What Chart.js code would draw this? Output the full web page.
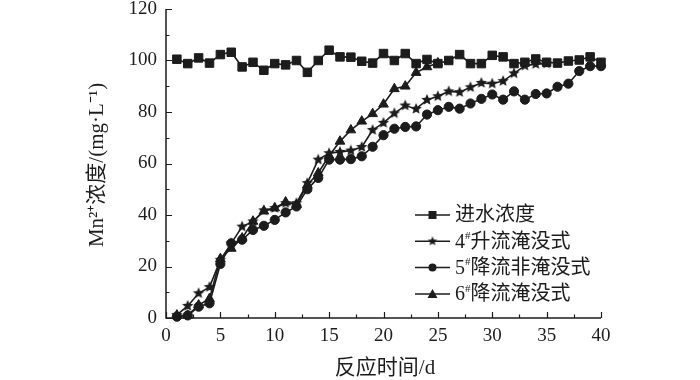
<!DOCTYPE html>
<html><head><meta charset="utf-8">
<script src="https://cdn.jsdelivr.net/npm/chart.js@4.4.0/dist/chart.umd.min.js"></script>
<style>html,body{margin:0;padding:0;background:#fff}#wrap{width:700px;height:380px}</style>
</head><body><div id="wrap"><canvas id="c" width="700" height="380"></canvas></div>
<script>
// ---- data ----
const days = [1,2,3,4,5,6,7,8,9,10,11,12,13,14,15,16,17,18,19,20,21,22,23,24,25,26,27,28,29,30,31,32,33,34,35,36,37,38,39,40];
const seriesLabels = ["进水浓度","4#升流淹没式","5#降流非淹没式","6#降流淹没式"];
const influent = [100.5,98.8,101,99,102.3,103.2,97.5,99.3,96.2,98.8,98.3,100,95.4,100,104,101.4,101.3,99.7,99,102.7,100,102.7,98.8,100.4,98.8,100,102.3,98.8,98.8,102,101.4,98.8,99.3,100.6,99.3,99,99.8,100.2,101.4,99.3];
const up4 = [1.2,4.7,9.6,12,22.6,29,35.5,37.5,41.8,42.7,44.6,44.6,52.4,61.5,64,64.5,65,66.4,73,75.8,79.5,82.5,81.2,84.7,86.1,88,87.7,89.6,91.3,91,92,95,98,98.6,98.8];
const down5 = [0.5,1,4.4,5.7,21,29,30.4,34.2,35.8,38.1,41,43.3,50,54.4,61.5,61.5,61.7,62.8,66.5,71,73.5,74.2,74.4,79,80.7,82,81.3,83.3,85.1,86.8,84.8,88,84.8,87,87.2,89.8,91,95.9,97.8,97.8];
const down6 = [1,1,5,7.5,23,27,31,37.5,41.5,42.7,45,44,51.7,56.3,63,68.6,73,76.4,79.3,83,89,90,95.3,97.5,99];
const xTicks = {min:0, max:40, step:5};
const yTicks = {min:0, max:120, step:20};

const INK = '#1c1c1c';
const FONT = '"Liberation Serif", "Noto Sans CJK SC", serif';

function starCanvas(r) {
  const c = document.createElement('canvas');
  const s = Math.ceil(r*2+2);
  c.width = s; c.height = s;
  const g = c.getContext('2d');
  g.fillStyle = INK;
  g.beginPath();
  for (let i=0;i<10;i++){
    const rr = i%2===0 ? r : r*0.45;
    const a = -Math.PI/2 + i*Math.PI/5;
    const px = s/2 + rr*Math.cos(a), py = s/2 + rr*Math.sin(a);
    if (i===0) g.moveTo(px,py); else g.lineTo(px,py);
  }
  g.closePath(); g.fill();
  return c;
}
const STAR = starCanvas(6);
const STAR_SMALL = starCanvas(5);

function pts(vals){ return vals.map((v,i)=>({x:days[i], y:v})); }

const styles = [
  {pointStyle:'rect', radius:6},
  {pointStyle:STAR, radius:6},
  {pointStyle:'circle', radius:4.6},
  {pointStyle:'triangle', radius:5.6}
];
const values = [influent, up4, down5, down6];

const datasets = values.map((v,i)=>({
  label: seriesLabels[i],
  data: pts(v),
  borderColor: INK,
  backgroundColor: INK,
  borderWidth: 1.6,
  pointStyle: styles[i].pointStyle,
  pointRadius: styles[i].radius,
  pointBorderWidth: 1,
  pointBackgroundColor: INK,
  pointBorderColor: INK,
  tension: 0,
  clip: false
}));

const axesPlugin = {
  id:'axesPlugin',
  beforeDatasetsDraw(chart){
    const {ctx, chartArea:{left,right,top,bottom}, scales:{x,y}} = chart;
    ctx.save();
    ctx.strokeStyle = INK; ctx.lineWidth = 1.5;
    ctx.beginPath();
    ctx.moveTo(left, top); ctx.lineTo(left, bottom); ctx.lineTo(right, bottom);
    ctx.stroke();
    ctx.lineWidth = 1.2;
    ctx.beginPath();
    for (let v=xTicks.min; v<=xTicks.max+1e-9; v+=xTicks.step/2){
      const px = Math.round(x.getPixelForValue(v))+0.5;
      const len = (Math.abs(v % xTicks.step) < 1e-9) ? 6 : 3.5;
      ctx.moveTo(px, bottom); ctx.lineTo(px, bottom-len);
    }
    for (let v=yTicks.min; v<=yTicks.max+1e-9; v+=yTicks.step/2){
      const py = Math.round(y.getPixelForValue(v))+0.5;
      const len = (Math.abs(v % yTicks.step) < 1e-9) ? 6 : 3.5;
      ctx.moveTo(left, py); ctx.lineTo(left+len, py);
    }
    ctx.stroke();
    ctx.restore();
  },
  afterDraw(chart){
    const {ctx} = chart;
    ctx.save();
    ctx.fillStyle = INK;
    ctx.font = '21px ' + FONT;
    ctx.textAlign = 'center'; ctx.textBaseline = 'middle';
    ctx.fillText('反应时间/d', 385, 368);
    ctx.translate(97, 165);
    ctx.rotate(-Math.PI/2);
    ctx.fillText('Mn²⁺浓度/(mg·L⁻¹)', 0, 0);
    ctx.restore();

    // legend
    ctx.save();
    const x0 = 415, x1 = 450, tx = 455;
    chart.data.datasets.forEach((ds,i)=>{
      const yy = 215 + i*26.3;
      ctx.strokeStyle = INK; ctx.lineWidth = 1.5;
      ctx.beginPath(); ctx.moveTo(x0, yy); ctx.lineTo(x1, yy); ctx.stroke();
      const mx = (x0+x1)/2;
      ctx.fillStyle = INK;
      const st = ds.pointStyle;
      if (st === 'rect') { ctx.fillRect(mx-4, yy-4, 8, 8); }
      else if (st === 'circle') { ctx.beginPath(); ctx.arc(mx, yy, 4, 0, Math.PI*2); ctx.fill(); }
      else if (st === 'triangle') {
        ctx.beginPath(); ctx.moveTo(mx, yy-5); ctx.lineTo(mx+5, yy+4); ctx.lineTo(mx-5, yy+4); ctx.closePath(); ctx.fill();
      } else { ctx.drawImage(STAR_SMALL, mx-STAR_SMALL.width/2, yy-STAR_SMALL.height/2); }
      const lab = ds.label;
      ctx.textAlign = 'left'; ctx.textBaseline = 'middle';
      const m = lab.match(/^(\d)#(.*)$/);
      const big = '20px ' + FONT, small = '11px ' + FONT;
      if (m) {
        ctx.font = big; ctx.fillText(m[1], tx, yy+1);
        let w = ctx.measureText(m[1]).width;
        ctx.font = small; ctx.fillText('#', tx+w, yy-5);
        w += ctx.measureText('#').width;
        ctx.font = big; ctx.fillText(m[2], tx+w, yy+1);
      } else {
        ctx.font = big; ctx.fillText(lab, tx, yy+1);
      }
    });
    ctx.restore();
  }
};

new Chart(document.getElementById('c'), {
  type:'line',
  data:{datasets},
  options:{
    responsive:false,
    animation:false,
    layout:{padding:{left:0,right:99,top:9,bottom:0}},
    plugins:{legend:{display:false}, tooltip:{enabled:false}},
    scales:{
      x:{type:'linear', min:xTicks.min, max:xTicks.max,
         ticks:{stepSize:xTicks.step, color:INK, font:{family:FONT, size:19}, padding:7, maxRotation:0},
         grid:{display:false, drawTicks:false}, border:{display:false},
         afterFit(s){ s.height = 62; s.paddingLeft = 0; s.paddingRight = 0; }},
      y:{type:'linear', min:yTicks.min, max:yTicks.max,
         ticks:{stepSize:yTicks.step, color:INK, font:{family:FONT, size:19}, padding:9},
         grid:{display:false, drawTicks:false}, border:{display:false},
         afterFit(s){ s.width = 166; s.paddingTop = 0; s.paddingBottom = 0; }}
    }
  },
  plugins:[axesPlugin]
});
</script></body></html>
